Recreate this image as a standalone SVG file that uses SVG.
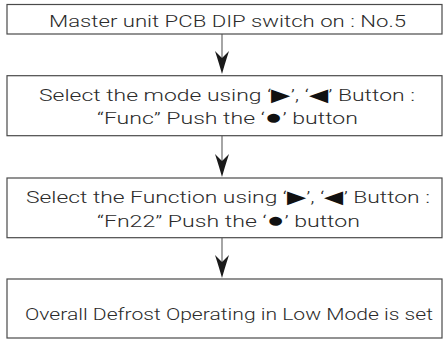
<svg xmlns="http://www.w3.org/2000/svg" width="443" height="340" viewBox="0 0 443 340">
  <defs>
    <style>
      .box { fill: #ffffff; stroke: #4a4a4a; stroke-width: 1.2; }
      .lbl { font-family: Roboto, "Liberation Sans", Arial, sans-serif; font-weight: 300; font-size: 16.5px; fill: #2b2b2b; text-anchor: middle; }
      .sym { font-family: "DejaVu Sans", sans-serif; font-size: 18px; fill: #111111; }
      .dot { font-family: "DejaVu Sans", sans-serif; font-size: 21px; fill: #111111; }
      .line { stroke: #6a6a6a; stroke-width: 1.2; fill: none; }
      .head { fill: #1a1a1a; }
    </style>
    <path id="arrowhead" class="head" d="M0,0 Q-2.5,-9 -7,-23 L0,-16 L7,-23 Q2.5,-9 0,0 Z"/>
  </defs>
  <rect width="443" height="340" fill="#ffffff"/>

  <g id="connectors">
    <g id="c1">
      <line class="line" x1="222" y1="34" x2="222" y2="60"/>
      <use href="#arrowhead" x="222" y="74"/>
    </g>
    <g id="c2">
      <line class="line" x1="222" y1="136" x2="222" y2="162"/>
      <use href="#arrowhead" x="222" y="177"/>
    </g>
    <g id="c3">
      <line class="line" x1="222" y1="238" x2="222" y2="264"/>
      <use href="#arrowhead" x="222" y="278"/>
    </g>
  </g>

  <g id="node1">
    <rect class="box" x="7" y="4.5" width="435" height="29.5"/>
    <text class="lbl" x="227.5" y="27" textLength="357" lengthAdjust="spacingAndGlyphs">Master unit PCB DIP switch on : No.5</text>
  </g>
  <g id="node2">
    <rect class="box" x="7" y="75.7" width="435" height="60"/>
    <text class="lbl" x="227" y="100.7" textLength="376" lengthAdjust="spacingAndGlyphs">Select the mode using ‘<tspan class="sym">▶</tspan>’, ‘<tspan class="sym">◀</tspan>’ Button :</text>
    <text class="lbl" x="227.5" y="124" textLength="261" lengthAdjust="spacingAndGlyphs">“Func” Push the ‘<tspan class="dot">●</tspan>’ button</text>
  </g>
  <g id="node3">
    <rect class="box" x="7" y="178" width="435" height="59.7"/>
    <text class="lbl" x="228" y="203.3" textLength="404" lengthAdjust="spacingAndGlyphs">Select the Function using ‘<tspan class="sym">▶</tspan>’, ‘<tspan class="sym">◀</tspan>’ Button :</text>
    <text class="lbl" x="228.5" y="226.7" textLength="263" lengthAdjust="spacingAndGlyphs">“Fn22” Push the ‘<tspan class="dot">●</tspan>’ button</text>
  </g>
  <g id="node4">
    <rect class="box" x="7" y="279" width="435" height="59"/>
    <text class="lbl" x="229" y="320" textLength="408" lengthAdjust="spacingAndGlyphs">Overall Defrost Operating in Low Mode is set</text>
  </g>
</svg>
